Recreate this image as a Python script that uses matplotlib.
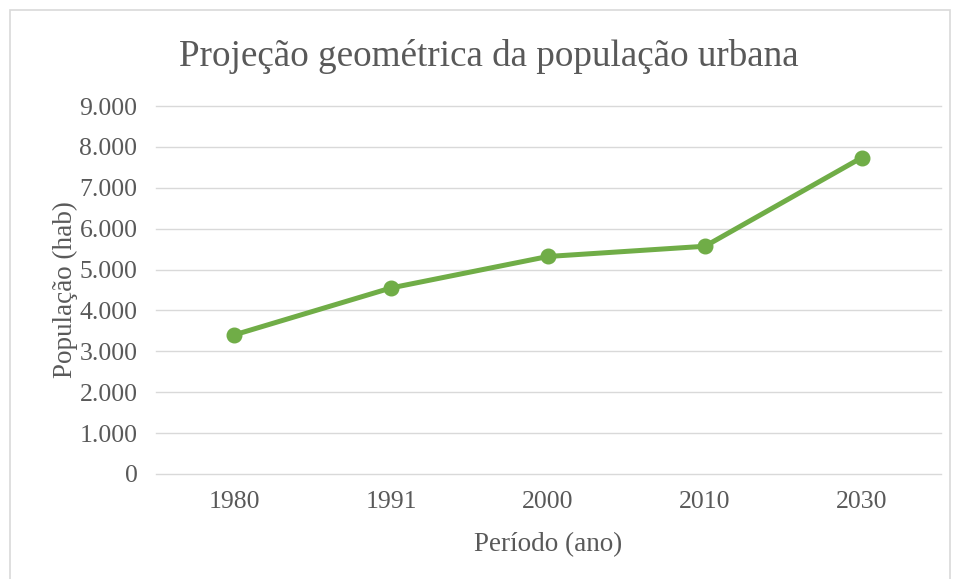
import matplotlib
matplotlib.use('Agg')
import matplotlib.pyplot as plt
from matplotlib.patches import Rectangle
from matplotlib.ticker import FuncFormatter

# data
anos = ['1980', '1991', '2000', '2010', '2030']
populacao = [3400, 4550, 5320, 5570, 7740]

verde = '#70AD47'
cinza = '#595959'
grade = '#D9D9D9'

plt.rcParams['font.family'] = ['Liberation Serif', 'DejaVu Serif']

fig = plt.figure(figsize=(9.55, 5.79), dpi=100)
ax = fig.add_axes([155.5 / 955, 1 - 474 / 579, (940.5 - 155.5) / 955, (474 - 106) / 579])

# outer chart border
fig.patches.append(Rectangle((10 / 955, -0.05), 940 / 955, 1 - 10 / 579 + 0.05,
                             transform=fig.transFigure, fill=False,
                             edgecolor=grade, linewidth=1.2))

x = range(len(anos))
ax.plot(x, populacao, color=verde, linewidth=3.6, marker='o', markersize=10.5,
        solid_capstyle='round', zorder=3)

ax.set_xlim(-0.5, len(anos) - 0.5)
ax.set_ylim(0, 9000)
ax.set_yticks(range(0, 9001, 1000))
ax.yaxis.set_major_formatter(FuncFormatter(lambda v, p: f'{int(v):,}'.replace(',', '.')))
ax.set_xticks(list(x))
ax.set_xticklabels(anos)

ax.grid(axis='y', color=grade, linewidth=1)
for gl in ax.get_ygridlines():
    gl.set_clip_on(False)
ax.set_axisbelow(True)
for s in ax.spines.values():
    s.set_visible(False)
ax.tick_params(length=0, labelsize=18.5, labelcolor=cinza)
ax.tick_params(axis='y', pad=13)
ax.tick_params(axis='x', pad=12)

ax.set_xlabel('Período (ano)', fontsize=19.5, color=cinza, labelpad=14)
ax.set_ylabel('População (hab)', fontsize=19.5, color=cinza, labelpad=1)
fig.text(0.512, 1 - 56 / 579, 'Projeção geométrica da população urbana',
         ha='center', va='center', fontsize=26.7, color=cinza)

fig.savefig('out.png', dpi=100)
